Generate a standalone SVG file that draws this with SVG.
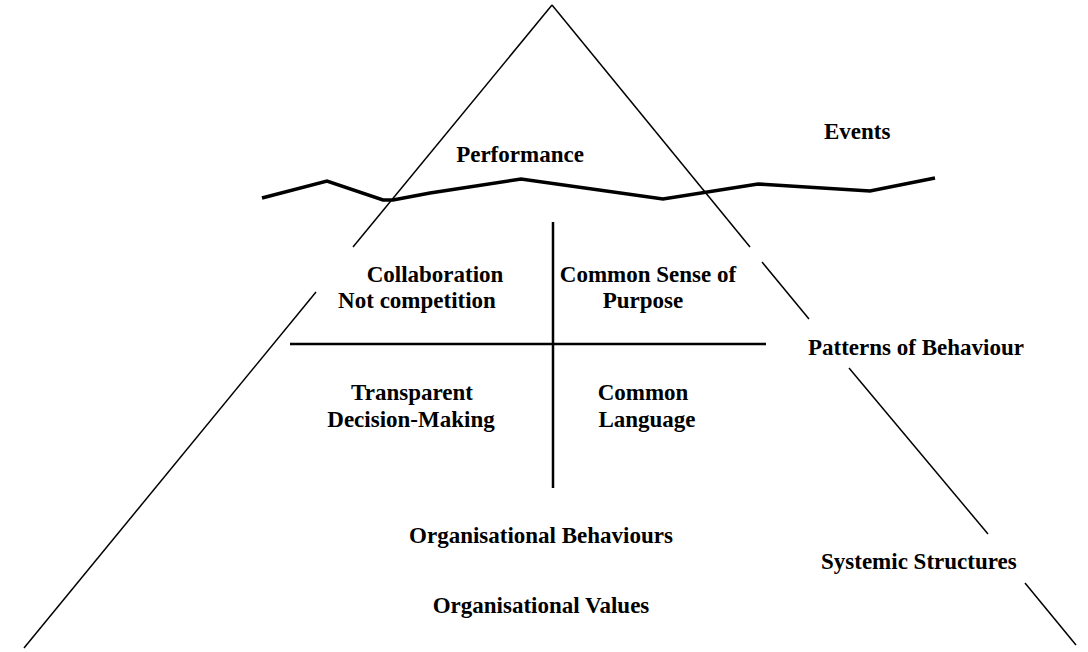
<svg xmlns="http://www.w3.org/2000/svg" width="1088" height="652" viewBox="0 0 1088 652">
<style>
.t{font-family:"Liberation Serif","Times New Roman",serif;font-weight:bold;font-size:23px;fill:#000}
.m{text-anchor:middle}
.edge{stroke:#000;stroke-width:1.5;fill:none}
.grid{stroke:#000;stroke-width:2.5;fill:none}
.wave{stroke:#000;stroke-width:3.5;fill:none;stroke-linejoin:miter}
</style>
<rect width="1088" height="652" fill="#fff"/>
<g id="connectors">
<g id="iceberg-left">
<line class="edge" x1="552" y1="5" x2="353" y2="247"/>
<line class="edge" x1="316" y1="292" x2="24" y2="648"/>
</g>
<g id="iceberg-right">
<line class="edge" x1="552" y1="5" x2="750" y2="247"/>
<line class="edge" x1="762" y1="262" x2="809" y2="319"/>
<line class="edge" x1="849" y1="368" x2="988" y2="534"/>
<line class="edge" x1="1025" y1="583" x2="1076" y2="645"/>
</g>
<polyline id="waterline" class="wave" points="262,198 327,181 383,200 393,200 430,193 521,179 663,199 758,184 870,191 935,178"/>
<line id="h-divider" class="grid" x1="290" y1="344" x2="766" y2="344"/>
<line id="v-divider" class="grid" x1="553" y1="222" x2="553" y2="488"/>
</g>
<g id="performance"><text class="t m" x="520" y="162">Performance</text></g>
<g id="events"><text class="t" x="824" y="139">Events</text></g>
<g id="collaboration"><text class="t m" x="435" y="282">Collaboration</text><text class="t m" x="417" y="308">Not competition</text></g>
<g id="purpose"><text class="t m" x="648" y="282">Common Sense of</text><text class="t m" x="643" y="308">Purpose</text></g>
<g id="transparent"><text class="t m" x="412" y="400">Transparent</text><text class="t m" x="411" y="427">Decision-Making</text></g>
<g id="language"><text class="t m" x="643" y="400">Common</text><text class="t m" x="647" y="427">Language</text></g>
<g id="patterns"><text class="t" x="808" y="355">Patterns of Behaviour</text></g>
<g id="systemic"><text class="t" x="821" y="569">Systemic Structures</text></g>
<g id="org-behaviours"><text class="t m" x="541" y="543">Organisational Behaviours</text></g>
<g id="org-values"><text class="t m" x="541" y="613">Organisational Values</text></g>
</svg>
